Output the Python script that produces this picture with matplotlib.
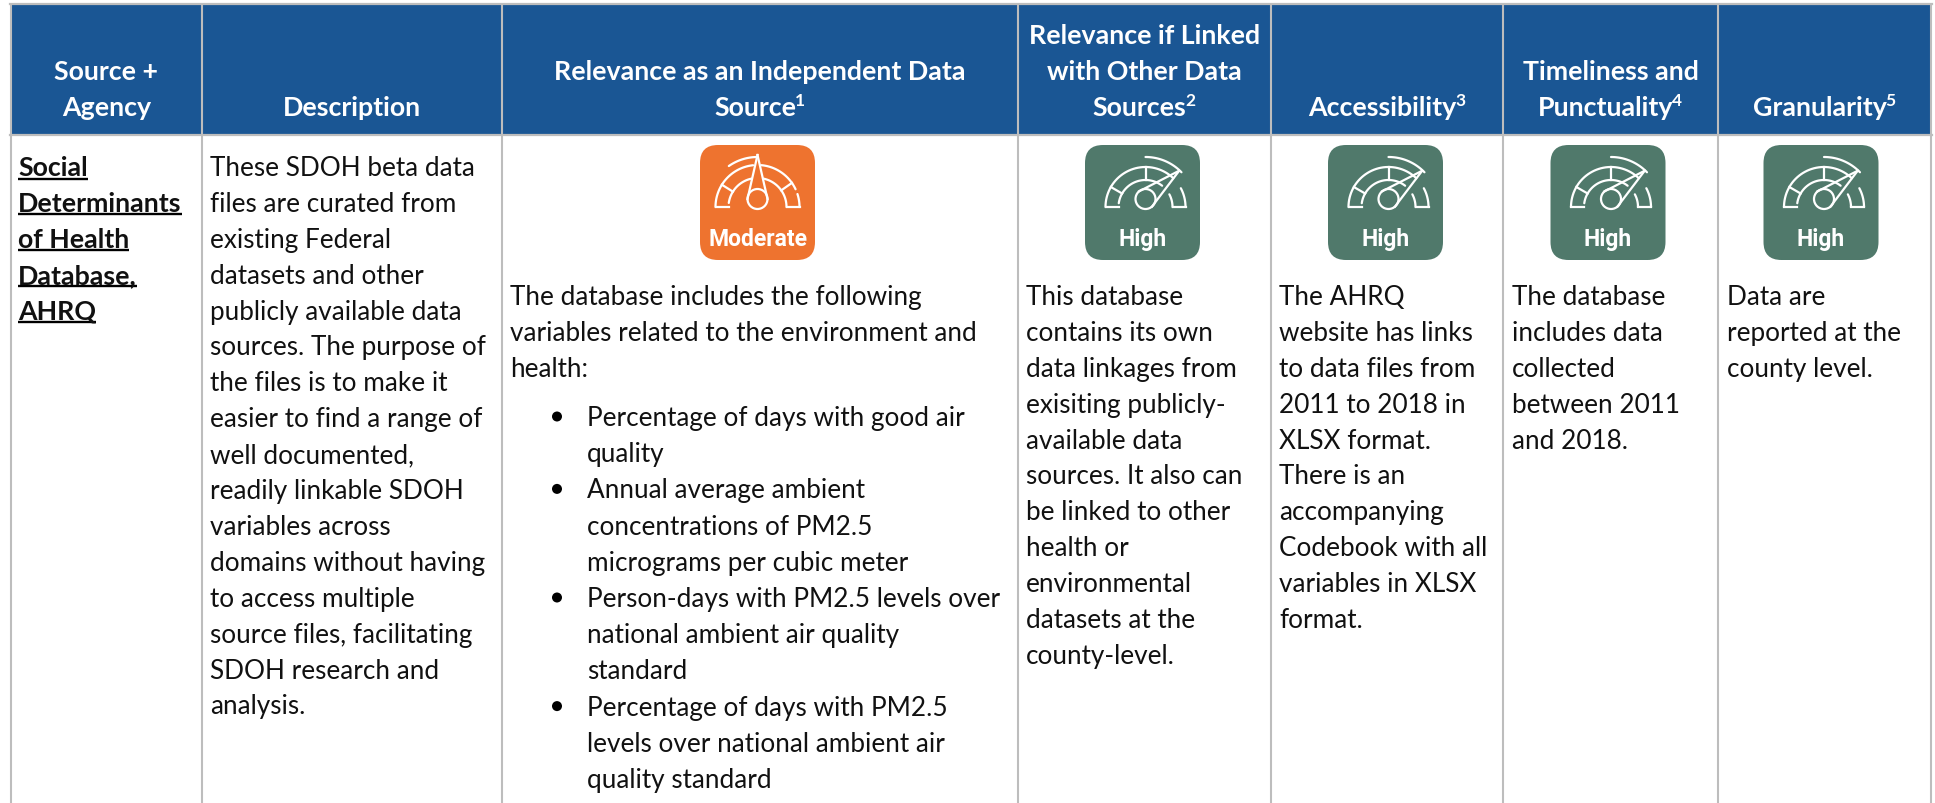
import numpy as np
import matplotlib
matplotlib.use("Agg")
import matplotlib.pyplot as plt
from matplotlib.patches import FancyBboxPatch, Rectangle, Circle

W, H = 1935, 804

# table content
headers = [["Source +", "Agency"], ["Description"], ["Relevance as an Independent Data", "Source"],
           ["Relevance if Linked", "with Other Data", "Sources"], ["Accessibility"],
           ["Timeliness and", "Punctuality"], ["Granularity"]]
header_notes = [None, None, "1", "2", "3", "4", "5"]
source_lines = ["Social", "Determinants", "of Health", "Database,", "AHRQ"]
description_lines = ["These SDOH beta data", "files are curated from", "existing Federal",
                     "datasets and other", "publicly available data", "sources. The purpose of",
                     "the files is to make it", "easier to find a range of", "well documented,",
                     "readily linkable SDOH", "variables across", "domains without having",
                     "to access multiple", "source files, facilitating", "SDOH research and", "analysis."]
relevance_intro = ["The database includes the following", "variables related to the environment and", "health:"]
relevance_bullets = [["Percentage of days with good air", "quality"],
                     ["Annual average ambient", "concentrations of PM2.5", "micrograms per cubic meter"],
                     ["Person-days with PM2.5 levels over", "national ambient air quality", "standard"],
                     ["Percentage of days with PM2.5", "levels over national ambient air", "quality standard"]]
linked_lines = ["This database", "contains its own", "data linkages from", "exisiting publicly-",
                "available data", "sources. It also can", "be linked to other", "health or",
                "environmental", "datasets at the", "county-level."]
access_lines = ["The AHRQ", "website has links", "to data files from", "2011 to 2018 in", "XLSX format.",
                "There is an", "accompanying", "Codebook with all", "variables in XLSX", "format."]
time_lines = ["The database", "includes data", "collected", "between 2011", "and 2018."]
gran_lines = ["Data are", "reported at the", "county level."]
ratings = ["Moderate", "High", "High", "High", "High"]
needle_angles = [90, 40, 40, 40, 40]

col_x = [11, 202, 502, 1018, 1271, 1503, 1718, 1931]
icon_cx = [757.5, 1142.5, 1385.5, 1608, 1821]

BLUE = "#1a5694"
GRID = "#bdbdbd"
ORANGE = "#ee732f"
GREEN = "#50796b"
INK = "#111111"
FONT = "Lato"
SIZE = 18.8
BOLD_SIZE = 19.3
LINE = 35.9
LIST_LINE = 36.2

fig = plt.figure(figsize=(W / 100, H / 100), dpi=100)
ax = fig.add_axes([0, 0, 1, 1])
ax.set_xlim(0, W)
ax.set_ylim(H, 0)
ax.axis("off")

ax.add_patch(Rectangle((col_x[0], 5), col_x[-1] - col_x[0], 130, fc=BLUE, ec="none"))
ax.plot([col_x[0] - 1, col_x[-1] + 1], [5, 5], color=GRID, lw=1.6)
ax.plot([col_x[0] - 1, col_x[-1] + 1], [135.5, 135.5], color=GRID, lw=1.6)
for x in col_x:
    ax.plot([x, x], [5, H], color=GRID, lw=1.5, solid_capstyle="butt")


def text_width(t):
    return t.get_window_extent(fig.canvas.get_renderer()).width


def draw_lines(lines, x, y0, step=LINE, **kw):
    out = []
    size = kw.pop("fontsize", SIZE)
    for i, s in enumerate(lines):
        out.append(ax.text(x, y0 + i * step, s, family=FONT, fontsize=size, color=INK, va="baseline", **kw))
    return out


# headers sit on the bottom of the cell
for i, lines in enumerate(headers):
    cx = (col_x[i] + col_x[i + 1]) / 2
    n = len(lines)
    for j, s in enumerate(lines):
        y = 116 - (n - 1 - j) * 36
        t = ax.text(cx, y, s, family=FONT, fontsize=BOLD_SIZE, weight="bold", color="white",
                    ha="center", va="baseline")
        if j == n - 1 and header_notes[i]:
            w = text_width(t)
            sup = ax.text(0, y - 10, header_notes[i], family=FONT, fontsize=12.5, weight="bold",
                          color="white", ha="left", va="baseline")
            sw = text_width(sup)
            t.set_x(cx - sw / 2)
            sup.set_x(cx - sw / 2 + w / 2 - 1)

# first column, bold + underlined
for i, t in enumerate(draw_lines(source_lines, 18, 176, weight="bold", fontsize=BOLD_SIZE)):
    w = text_width(t)
    y = 176 + i * LINE + 3.5
    ax.plot([18, 18 + w], [y, y], color="black", lw=1.7, solid_capstyle="butt")

draw_lines(description_lines, 210, 176)
draw_lines(relevance_intro, 510, 305)
y = 426
for item in relevance_bullets:
    ax.add_patch(Circle((557, y - 8.5), 5, fc="black", ec="none"))
    draw_lines(item, 587, y, step=LIST_LINE)
    y += len(item) * LIST_LINE
draw_lines(linked_lines, 1026, 305)
draw_lines(access_lines, 1279, 305)
draw_lines(time_lines, 1512, 305)
draw_lines(gran_lines, 1727, 305)


def arc(cx, cy, r, a0, a1, lw=1.6):
    th = np.radians(np.linspace(a0, a1, 40))
    ax.plot(cx + r * np.cos(th), cy - r * np.sin(th), color="white", lw=lw, solid_capstyle="round")


def gauge(cx, cy, needle):
    up = needle > 60
    r_out, r_in, r_top = (42, 29, 50) if up else (40, 27, 50)
    hub = 10
    base = cy + 8
    # band with a gap where the needle passes
    arc(cx, base, r_out, 180, needle + 6)
    if up:
        arc(cx, base, r_out, needle - 5, 25)
        arc(cx, base, r_out, 18, 0)
    else:
        arc(cx, base, r_out, needle - 12, 0)
    arc(cx, base, r_in, 172, needle + 12)
    arc(cx, base, r_in, needle - 12, 0)
    arc(cx, base, r_top, 125 if up else 90, needle + (0 if up else 4))
    for s in (-1, 1):
        ax.plot([cx + s * r_out, cx + s * r_in], [base, base], color="white", lw=1.6)
    ticks = [148, 35] if up else [150, 90]
    for a in ticks:
        c, n = np.cos(np.radians(a)), np.sin(np.radians(a))
        ax.plot([cx + r_in * c, cx + r_out * c], [base - r_in * n, base - r_out * n], color="white", lw=1.6)
    # needle
    a = np.radians(needle)
    tip = (cx + 44 * np.cos(a), cy - 44 * np.sin(a))
    for s in (-1, 1):
        b = a + s * np.pi / 2
        ax.plot([tip[0], cx + hub * np.cos(b)], [tip[1], cy - hub * np.sin(b)], color="white", lw=1.6)
    ax.add_patch(Circle((cx, cy), hub, fc="none", ec="white", lw=1.6))


for cx, rating, needle in zip(icon_cx, ratings, needle_angles):
    fill = ORANGE if rating == "Moderate" else GREEN
    ax.add_patch(FancyBboxPatch((cx - 57.5 + 16, 146 + 16), 115 - 32, 115 - 32, ec="none", fc=fill,
                                boxstyle="round,pad=16,rounding_size=18"))
    gauge(cx + (0 if rating == "Moderate" else 3), 200, needle)
    ax.text(cx, 246, rating, family="Roboto", fontsize=16.5, weight="bold", color="white",
            ha="center", va="baseline")

fig.savefig("out.png", dpi=100)
